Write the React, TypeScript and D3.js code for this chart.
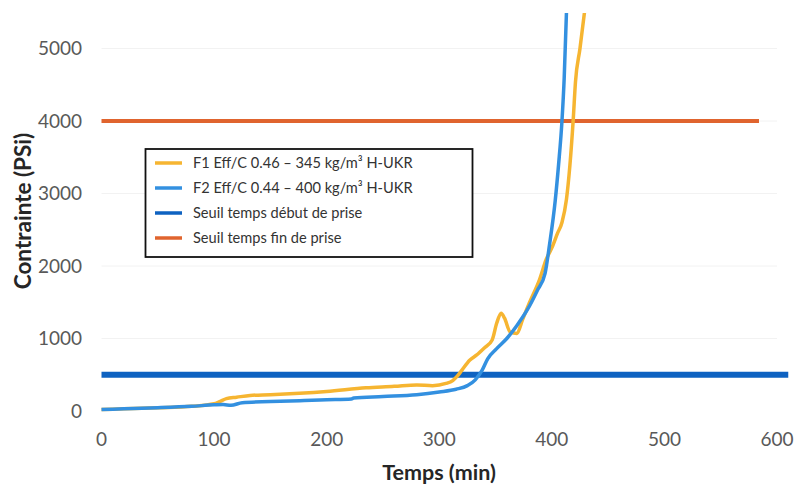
import React from 'react';
import * as d3 from 'd3';

const xTicks = [0, 100, 200, 300, 400, 500, 600];
const yTicks = [0, 1000, 2000, 3000, 4000, 5000];

const f1Time = [0, 20, 50, 80, 100, 105, 111, 120, 132, 150, 176, 200, 235, 260, 280, 294, 306, 312, 316, 320, 327, 333, 340, 347, 351, 355, 358, 363, 369, 374, 380, 389, 395, 400, 405, 409, 413, 416, 419, 421, 425, 429];
const f1Stress = [20, 30, 45, 65, 100, 130, 170, 190, 215, 225, 245, 270, 320, 340, 360, 350, 380, 420, 480, 560, 700, 770, 870, 980, 1210, 1350, 1280, 1090, 1070, 1260, 1490, 1810, 2090, 2250, 2450, 2600, 2920, 3380, 4020, 4540, 5000, 5500];

const f2Time = [0, 20, 50, 80, 100, 108, 115, 125, 150, 180, 200, 222, 224, 250, 280, 300, 315, 325, 332, 338, 343, 351, 360, 369, 378, 387, 394, 398, 403, 406, 409, 411, 413];
const f2Stress = [20, 30, 45, 65, 85, 90, 78, 115, 130, 145, 155, 165, 180, 200, 225, 262, 300, 350, 430, 560, 720, 860, 1000, 1180, 1390, 1660, 1900, 2300, 2900, 3400, 4000, 4600, 5500];

const seuilDebutValue = 500;
const seuilDebutTime = [0, 610];
const seuilFinValue = 4000;
const seuilFinTime = [0, 584];

const legendLabels = [
  'F1 Eff/C 0.46 – 345 kg/m³ H-UKR',
  'F2 Eff/C 0.44 – 400 kg/m³ H-UKR',
  'Seuil temps début de prise',
  'Seuil temps fin de prise',
];
const legendColors = ['#F6B531', '#3390E0', '#0E62C1', '#E0642E'];

const W = 796;
const H = 484;
const FONT = 'Lato, "Open Sans", sans-serif';

export default function App() {
  const x = d3.scaleLinear().domain([0, 600]).range([101.5, 777]);
  const y = d3.scaleLinear().domain([0, 5000]).range([411, 48.5]);

  const line = d3
    .line<[number, number]>()
    .x((d) => x(d[0]))
    .y((d) => y(d[1]))
    .curve(d3.curveMonotoneX);

  const f1 = f1Time.map((t, i) => [t, f1Stress[i]] as [number, number]);
  const f2 = f2Time.map((t, i) => [t, f2Stress[i]] as [number, number]);
  const debut = seuilDebutTime.map((t) => [t, seuilDebutValue] as [number, number]);
  const fin = seuilFinTime.map((t) => [t, seuilFinValue] as [number, number]);

  const legendX = 145.5;
  const legendY = 149;
  const legendW = 327;
  const legendH = 108;
  const rowY = (i: number) => 163 + i * 25;

  return (
    <svg
      width={W}
      height={H}
      style={{ position: 'absolute', left: 0, top: 0, background: '#fff' }}
      fontFamily={FONT}
    >
      <defs>
        <clipPath id="plot">
          <rect x={90} y={13} width={706} height={420} />
        </clipPath>
      </defs>
      <rect x={0} y={0} width={W} height={H} fill="#fff" />

      {/* gridlines */}
      {yTicks.slice(1).map((v) => (
        <line key={v} x1={x(0)} x2={x(600)} y1={y(v)} y2={y(v)} stroke="#f2f2f2" strokeWidth={1} />
      ))}

      {/* y tick labels */}
      {yTicks.map((v) => (
        <text key={v} x={82} y={y(v)} dy="0.35em" textAnchor="end" fontSize={19} fill="#595959">
          {v}
        </text>
      ))}

      {/* x tick labels */}
      {xTicks.map((v) => (
        <text key={v} x={x(v)} y={439} dy="0.35em" textAnchor="middle" fontSize={19} fill="#595959">
          {v}
        </text>
      ))}

      {/* axis titles */}
      <text x={439} y={472} dy="0.35em" textAnchor="middle" fontSize={21.5} fontWeight="bold" fill="#262626">
        Temps (min)
      </text>
      <text
        transform="translate(23,211) rotate(-90)"
        dy="0.35em"
        textAnchor="middle"
        fontSize={22.5}
        fontWeight="bold"
        fill="#262626"
      >
        Contrainte (PSi)
      </text>

      <g clipPath="url(#plot)">
        <path d={line(debut) || ''} fill="none" stroke={legendColors[2]} strokeWidth={6} />
        <path d={line(fin) || ''} fill="none" stroke={legendColors[3]} strokeWidth={4} />
        <path d={line(f1) || ''} fill="none" stroke={legendColors[0]} strokeWidth={3.5} strokeLinejoin="round" />
        <path d={line(f2) || ''} fill="none" stroke={legendColors[1]} strokeWidth={3.5} strokeLinejoin="round" />
      </g>

      {/* legend */}
      <rect x={legendX} y={legendY} width={legendW} height={legendH} fill="#fff" stroke="#111" strokeWidth={1.8} />
      {legendLabels.map((label, i) => (
        <g key={label}>
          <line x1={155} x2={182} y1={rowY(i)} y2={rowY(i)} stroke={legendColors[i]} strokeWidth={3.5} />
          <text x={193} y={rowY(i)} dy="0.35em" fontSize={14.6} fill="#333">
            {label}
          </text>
        </g>
      ))}
    </svg>
  );
}
